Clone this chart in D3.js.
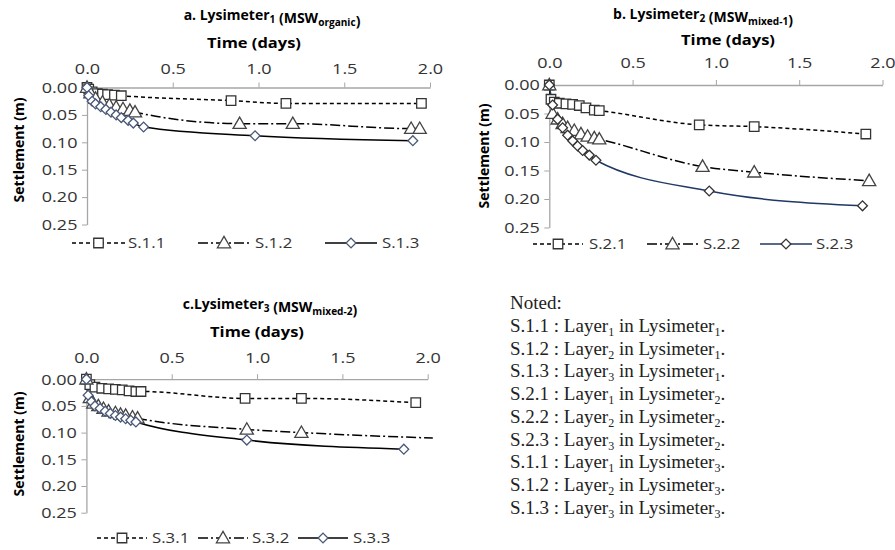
<!DOCTYPE html>
<html>
<head>
<meta charset="utf-8">
<script src="https://cdn.jsdelivr.net/npm/d3@7"></script>
<style>
  body { margin: 0; background: #fff; }
  svg text { font-family: "Open Sans", sans-serif; }
  .tick text { fill: #333; font-size: 15px; }
  .tick line, .domain { stroke: #a6a6a6; }
  .note { font-family: "Liberation Serif", serif; font-size: 19px; fill: #222; }
</style>
</head>
<body>
<div id="chart"></div>
<script>
// Settlement vs time, three lysimeters, three layers each
// values (days, metres)

var timeTicks = [0, 0.5, 1.0, 1.5, 2.0];
var settleTicks = [0, 0.05, 0.10, 0.15, 0.20, 0.25];

// Lysimeter 1
var t11 = [0, 0.01, 0.03, 0.06, 0.09, 0.12, 0.16, 0.20, 0.84, 1.16, 1.95];
var s11 = [0, 0.003, 0.008, 0.011, 0.012, 0.013, 0.014, 0.015, 0.024, 0.029, 0.029];
var t12 = [0, 0.02, 0.05, 0.09, 0.13, 0.17, 0.21, 0.25, 0.28, 0.89, 1.20, 1.89, 1.94];
var s12 = [0, 0.010, 0.020, 0.027, 0.032, 0.036, 0.039, 0.042, 0.045, 0.066, 0.066, 0.075, 0.075];
var t13 = [0, 0.01, 0.03, 0.05, 0.08, 0.11, 0.14, 0.17, 0.20, 0.24, 0.27, 0.33, 0.98, 1.90];
var s13 = [0, 0.015, 0.025, 0.030, 0.035, 0.040, 0.045, 0.050, 0.055, 0.060, 0.065, 0.072, 0.088, 0.097];

// Lysimeter 2
var t21 = [0, 0.01, 0.03, 0.06, 0.10, 0.14, 0.18, 0.22, 0.27, 0.30, 0.90, 1.23, 1.90];
var s21 = [0, 0.025, 0.030, 0.032, 0.033, 0.034, 0.036, 0.040, 0.044, 0.045, 0.070, 0.073, 0.086];
var t22 = [0, 0.02, 0.05, 0.08, 0.11, 0.15, 0.19, 0.23, 0.27, 0.30, 0.92, 1.23, 1.92];
var s22 = [0, 0.050, 0.060, 0.068, 0.075, 0.080, 0.086, 0.090, 0.093, 0.095, 0.143, 0.153, 0.168];
var t23 = [0, 0.02, 0.05, 0.08, 0.11, 0.14, 0.17, 0.20, 0.24, 0.28, 0.96, 1.88];
var s23 = [0, 0.035, 0.060, 0.075, 0.088, 0.098, 0.107, 0.115, 0.123, 0.132, 0.186, 0.212];

// Lysimeter 3
var t31 = [0, 0.02, 0.05, 0.09, 0.13, 0.17, 0.21, 0.25, 0.29, 0.32, 0.93, 1.26, 1.93];
var s31 = [0, 0.010, 0.015, 0.017, 0.018, 0.019, 0.020, 0.022, 0.023, 0.023, 0.036, 0.036, 0.044];
var t32 = [0, 0.02, 0.04, 0.07, 0.10, 0.13, 0.17, 0.20, 0.23, 0.27, 0.30, 0.94, 1.26, 2.10];
var s32 = [0, 0.035, 0.045, 0.050, 0.055, 0.060, 0.063, 0.066, 0.068, 0.071, 0.073, 0.094, 0.100, 0.111];
var t33 = [0, 0.01, 0.03, 0.05, 0.08, 0.11, 0.14, 0.17, 0.20, 0.23, 0.26, 0.29, 0.94, 1.86];
var s33 = [0, 0.030, 0.042, 0.050, 0.055, 0.060, 0.064, 0.068, 0.071, 0.074, 0.077, 0.080, 0.114, 0.131];

var noteLines = [
  ["S.1.1 : Layer", "1", " in Lysimeter", "1", "."],
  ["S.1.2 : Layer", "2", " in Lysimeter", "1", "."],
  ["S.1.3 : Layer", "3", " in Lysimeter", "1", "."],
  ["S.2.1 : Layer", "1", " in Lysimeter", "2", "."],
  ["S.2.2 : Layer", "2", " in Lysimeter", "2", "."],
  ["S.2.3 : Layer", "3", " in Lysimeter", "2", "."],
  ["S.1.1 : Layer", "1", " in Lysimeter", "3", "."],
  ["S.1.2 : Layer", "2", " in Lysimeter", "3", "."],
  ["S.1.3 : Layer", "3", " in Lysimeter", "3", "."]
];

var svgWidth = 895;
var svgHeight = 550;
var sx = 1.2; // the original figure is a bit stretched sideways

var svg = d3.select("#chart")
  .append("svg")
  .attr("width", svgWidth)
  .attr("height", svgHeight);

function mk(name, t, s, marker, dash, lineColor, markColor) {
  return { name: name, pts: t.map((d, i) => ({ t: d, s: s[i] })), marker: marker, dash: dash, line: lineColor, mark: markColor };
}

var dashA = "4,3";
var dashB = "10,3,2,3";

var panels = [
  {
    x0: 87, x1: 430, y0: 87.5, y1: 224.5, xmax: 2.02, pad: 9,
    title: [["a. Lysimeter", 0], ["1", 1], [" (MSW", 0], ["organic", 1], [")", 0]],
    titleX: 272, titleY: 20, timeX: 254, timeY: 48, labX: 19, labY: 150,
    series: [
      mk("S.1.1", t11, s11, "square", dashA, "#000", "#333"),
      mk("S.1.2", t12, s12, "triangle", dashB, "#000", "#444"),
      mk("S.1.3", t13, s13, "diamond", null, "#000", "#4a5878")
    ],
    legY: 243, leg: [[72, 125, 128], [198, 250, 255], [325, 377, 382]]
  },
  {
    x0: 549.3, x1: 882.5, y0: 85, y1: 227.5, xmax: 2.02, pad: 12,
    title: [["b. Lysimeter", 0], ["2", 1], [" (MSW", 0], ["mixed-1", 1], [")", 0]],
    titleX: 703, titleY: 19, timeX: 728, timeY: 45, labX: 484, labY: 156,
    series: [
      mk("S.2.1", t21, s21, "square", dashA, "#000", "#333"),
      mk("S.2.2", t22, s22, "triangle", dashB, "#000", "#444"),
      mk("S.2.3", t23, s23, "diamond", null, "#1f3864", "#333")
    ],
    legY: 244, leg: [[533, 583, 589], [647, 698, 703], [760, 812, 816]]
  },
  {
    x0: 86.4, x1: 427.7, y0: 379.2, y1: 512.7, xmax: 2.03, pad: 11,
    title: [["c.Lysimeter", 0], ["3", 1], [" (MSW", 0], ["mixed-2", 1], [")", 0]],
    titleX: 270, titleY: 309, timeX: 257, timeY: 337, labX: 19, labY: 444,
    series: [
      mk("S.3.1", t31, s31, "square", dashA, "#000", "#333"),
      mk("S.3.2", t32, s32, "triangle", dashB, "#000", "#444"),
      mk("S.3.3", t33, s33, "diamond", null, "#000", "#4a5878")
    ],
    legY: 538, leg: [[97, 147, 152], [198, 248, 252], [298, 348, 353]]
  }
];

function markerPath(kind) {
  if (kind === "square") return d3.symbol(d3.symbolSquare, 90)();
  if (kind === "triangle") return d3.symbol(d3.symbolTriangle, 75)();
  return d3.symbol(d3.symbolSquare, 48)();
}

function drawMarker(g, kind, x, y, color) {
  g.append("path")
    .attr("d", markerPath(kind))
    .attr("transform", kind === "diamond" ? `translate(${x},${y}) rotate(45)` : `translate(${x},${y + (kind === "triangle" ? 1 : 0)})`)
    .attr("fill", "#fff")
    .attr("stroke", color)
    .attr("stroke-width", 1.3);
}

function richText(g, parts, x, y, size) {
  var t = g.append("text")
    .attr("x", x)
    .attr("y", y)
    .attr("text-anchor", "middle")
    .style("font-size", size + "px")
    .style("font-weight", "bold");
  parts.forEach(function(p) {
    t.append("tspan")
      .attr("dy", p[1] ? 3 : 0)
      .style("font-size", p[1] ? (size * 0.72) + "px" : null)
      .text(p[0]);
    if (p[1]) t.append("tspan").attr("dy", -3).text("");
  });
}

panels.forEach(function(p, pi) {
  var g = svg.append("g");

  var x = d3.scaleLinear().domain([0, 2]).range([p.x0, p.x1]);
  var y = d3.scaleLinear().domain([0, 0.25]).range([p.y0, p.y1]);

  var xAxis = d3.axisTop(x).tickValues(timeTicks).tickFormat(d3.format(".1f")).tickSize(5).tickSizeOuter(0).tickPadding(p.pad);
  var yAxis = d3.axisLeft(y).tickValues(settleTicks).tickFormat(d3.format(".2f")).tickSize(5).tickSizeOuter(0).tickPadding(3);

  g.append("g").attr("transform", `translate(0,${p.y0})`).call(xAxis)
    .call(a => a.selectAll(".tick").filter(d => d === 0).select("line").remove())
    .call(a => a.selectAll(".tick text").attr("transform", `scale(${sx},1)`));
  g.append("g").attr("transform", `translate(${p.x0},0)`).call(yAxis)
    .call(a => a.selectAll(".tick text").attr("transform", `scale(${sx},1)`));
  g.selectAll(".domain").attr("stroke-width", 1.3);

  richText(g, p.title, p.titleX, p.titleY, 14);

  g.append("text")
    .attr("transform", `translate(${p.timeX},${p.timeY}) scale(1.1,1)`)
    .attr("text-anchor", "middle")
    .style("font-size", "15px")
    .style("font-weight", "bold")
    .text("Time (days)");

  g.append("text")
    .attr("transform", `translate(${p.labX},${p.labY}) rotate(-90)`)
    .attr("text-anchor", "middle")
    .attr("dy", "0.35em")
    .style("font-size", "14px")
    .style("font-weight", "bold")
    .text("Settlement (m)");

  var clipId = "clip" + pi;
  svg.append("clipPath").attr("id", clipId)
    .append("rect")
    .attr("x", p.x0 - 10).attr("y", p.y0 - 10)
    .attr("width", x(p.xmax) - p.x0 + 10).attr("height", p.y1 - p.y0 + 20);

  var line = d3.line()
    .x(d => x(d.t))
    .y(d => y(d.s))
    .curve(d3.curveMonotoneX);

  var plot = g.append("g").attr("clip-path", `url(#${clipId})`);

  p.series.forEach(function(s) {
    plot.append("path")
      .datum(s.pts)
      .attr("d", line)
      .attr("fill", "none")
      .attr("stroke", s.line)
      .attr("stroke-width", 1.5)
      .attr("stroke-dasharray", s.dash);
  });

  p.series.forEach(function(s) {
    s.pts.filter(d => d.t <= 2.0).forEach(function(d) {
      drawMarker(plot, s.marker, x(d.t), y(d.s), s.mark);
    });
  });

  // legend
  p.series.forEach(function(s, i) {
    var L = p.leg[i];
    g.append("line")
      .attr("x1", L[0]).attr("x2", L[1])
      .attr("y1", p.legY).attr("y2", p.legY)
      .attr("stroke", s.line)
      .attr("stroke-width", 1.5)
      .attr("stroke-dasharray", s.dash);
    drawMarker(g, s.marker, (L[0] + L[1]) / 2, p.legY, s.mark);
    g.append("text")
      .attr("transform", `translate(${L[2]},${p.legY}) scale(${sx},1)`)
      .attr("dy", "0.35em")
      .style("font-size", "14px")
      .style("fill", "#333")
      .text(s.name);
  });
});

// note block
var note = svg.append("g");
note.append("text").attr("class", "note").attr("x", 510).attr("y", 309).text("Noted:");
noteLines.forEach(function(parts, i) {
  var t = note.append("text").attr("class", "note").attr("x", 510).attr("y", 332 + i * 22.7);
  t.append("tspan").text(parts[0]);
  t.append("tspan").attr("dy", 4).style("font-size", "12px").text(parts[1]);
  t.append("tspan").attr("dy", -4).text(parts[2]);
  t.append("tspan").attr("dy", 4).style("font-size", "12px").text(parts[3]);
  t.append("tspan").attr("dy", -4).text(parts[4]);
});
</script>
</body>
</html>
